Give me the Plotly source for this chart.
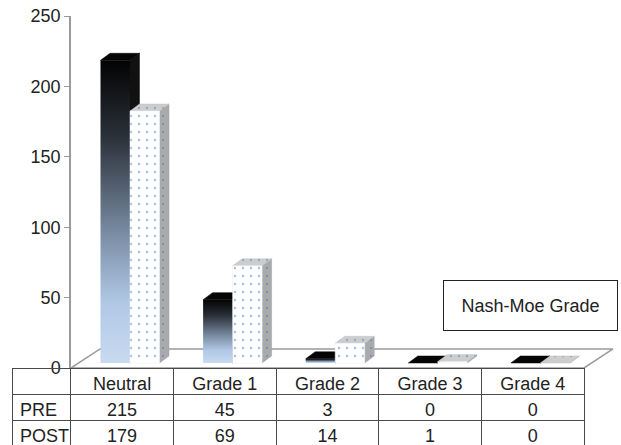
import plotly.graph_objects as go

# ---- data ----
categories = ["Neutral", "Grade 1", "Grade 2", "Grade 3", "Grade 4"]
pre_values = [215, 45, 3, 0, 0]
post_values = [179, 69, 14, 1, 0]
series_names = ["PRE", "POST"]
y_ticks = [0, 50, 100, 150, 200, 250]
legend_title = "Nash-Moe Grade"

# ---- geometry (in axis units) ----
W = 0.2875      # bar width (category units)
F = 0.075       # front-face shift of bar pair from category centre
DX = 0.0926     # 3-D depth offset x
DY = 4.97       # 3-D depth offset y
BASE = 3.55     # bars stand slightly back on the floor
FLOOR_DX = 0.283
FLOOR_DY = 13.5

FONT = "Liberation Sans, Arial, Helvetica, sans-serif"
FS = 18
WID, HEI = 621, 445

fig = go.Figure()


def poly(xs, ys, **kw):
    fig.add_trace(go.Scatter(x=xs + [xs[0]], y=ys + [ys[0]], mode="lines",
                             fill="toself", hoverinfo="skip", showlegend=False,
                             **kw))


# floor
n = len(categories)
fx0, fx1 = -0.5, n - 0.5
poly([fx0, fx0 + FLOOR_DX, fx1 + FLOOR_DX, fx1],
     [0, FLOOR_DY, FLOOR_DY, 0],
     fillcolor="white", line=dict(color="#9a9a9a", width=1.5))

pre_scale = [[0, "#c8daef"], [0.2, "#b0c8e6"], [0.45, "#74869c"],
             [0.75, "#2a3038"], [1, "#030303"]]
dots = dict(shape=".", fgcolor="#3f7ddb", size=8, solidity=0.07,
            fillmode="overlay")


def box(x0, value, front_kw, top_kw, side_kw):
    yb = BASE
    yt = BASE + value
    poly([x0 + W, x0 + W + DX, x0 + W + DX, x0 + W],
         [yb, yb + DY, yt + DY, yt], **side_kw)
    poly([x0, x0 + W, x0 + W + DX, x0 + DX],
         [yt, yt, yt + DY, yt + DY], **top_kw)
    if value > 0:
        poly([x0, x0 + W, x0 + W, x0], [yb, yb, yt, yt], **front_kw)


for i, cat in enumerate(categories):
    xp = i + F - W
    xq = i + F
    box(xp, pre_values[i],
        dict(fillgradient=dict(type="vertical", colorscale=pre_scale,
                               start=BASE, stop=BASE + pre_values[i]),
             line=dict(width=0)),
        dict(fillcolor="#050505", line=dict(color="#050505", width=0.5)),
        dict(fillcolor="#111111", line=dict(color="#111111", width=0.5)))
    box(xq, post_values[i],
        dict(fillcolor="white", fillpattern=dict(bgcolor="white", **dots),
             line=dict(color="#eeeeee", width=0.5)),
        dict(fillcolor="#cdcdcd", fillpattern=dict(bgcolor="#cdcdcd", **dots),
             line=dict(color="#c0c0c0", width=0.5)),
        dict(fillcolor="#aaaaaa", fillpattern=dict(bgcolor="#aaaaaa", **dots),
             line=dict(color="#a0a0a0", width=0.5)))

# data table under the chart
fig.add_trace(go.Table(
    domain=dict(x=[12 / WID, 584 / WID], y=[0, (HEI - 368) / HEI]),
    columnwidth=[59] + [103] * n,
    header=dict(values=[""] + categories, height=26,
                align=["left"] + ["center"] * n,
                fill=dict(color="rgba(255,255,255,0)"),
                line=dict(color="#4a4a4a", width=1),
                font=dict(family=FONT, size=FS, color="#222222")),
    cells=dict(values=[series_names] + [[pre_values[i], post_values[i]] for i in range(n)],
               height=26,
               align=["left"] + ["center"] * n,
               fill=dict(color="rgba(255,255,255,0)"),
               line=dict(color="#4a4a4a", width=1),
               font=dict(family=FONT, size=FS, color="#222222")),
))

fig.add_annotation(text=legend_title, xref="paper", yref="paper",
                   x=530.5 / WID, y=1 - 305.5 / HEI, xanchor="center",
                   yanchor="middle", showarrow=False, width=173, height=49,
                   borderpad=0, bordercolor="#222222", borderwidth=1,
                   bgcolor="white",
                   font=dict(family=FONT, size=FS, color="#222222"))

fig.update_layout(
    width=WID, height=HEI,
    margin=dict(l=0, r=0, t=0, b=0, autoexpand=False),
    paper_bgcolor="white", plot_bgcolor="white",
    showlegend=False,
    xaxis=dict(visible=False, range=[-0.5, 4.79], fixedrange=True,
               domain=[71 / WID, (71 + 5.29 * 102.6) / WID]),
    yaxis=dict(range=[0, 250], tickvals=y_ticks, showgrid=False,
               domain=[(HEI - 368) / HEI, (HEI - 16) / HEI], automargin=False,
               zeroline=False, showline=True, linecolor="#9a9a9a",
               linewidth=1.5, ticks="outside", ticklen=5,
               tickcolor="#9a9a9a",
               tickfont=dict(family=FONT, size=FS, color="#222222")),
)

fig.write_html("out.html")
